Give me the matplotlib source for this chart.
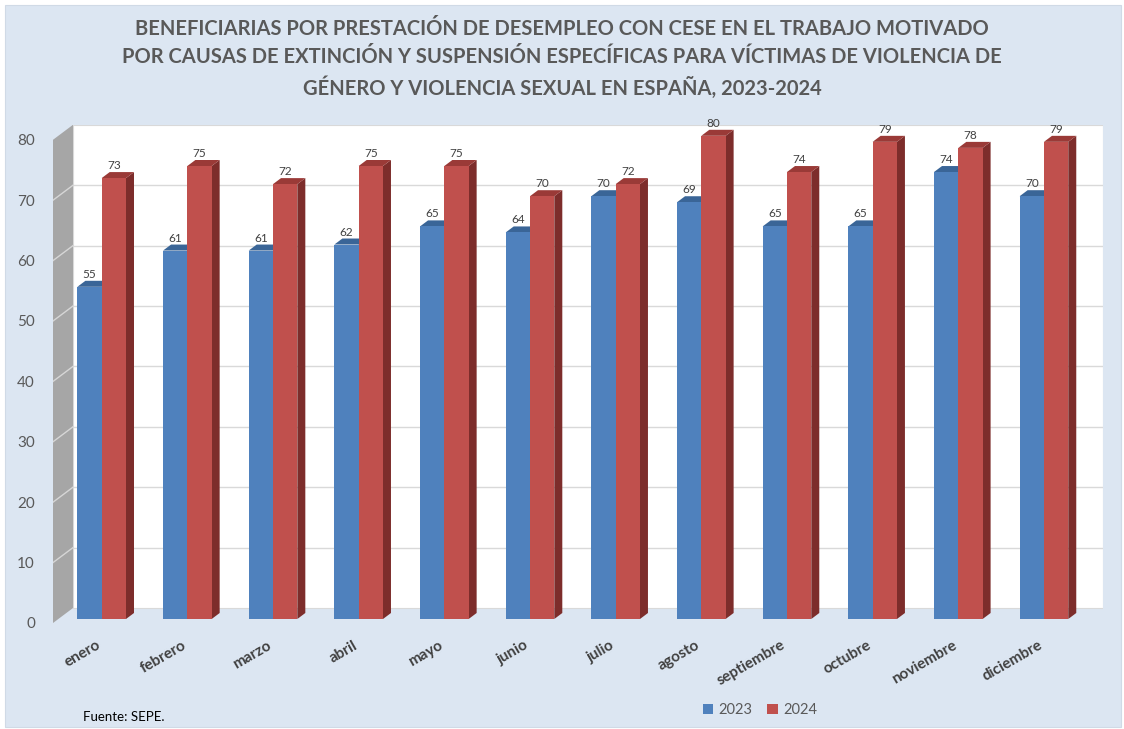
import numpy as np
import matplotlib.pyplot as plt
from matplotlib.patches import Polygon, Rectangle, Patch
from matplotlib.transforms import ScaledTranslation

# Datos
meses = ['enero', 'febrero', 'marzo', 'abril', 'mayo', 'junio', 'julio',
         'agosto', 'septiembre', 'octubre', 'noviembre', 'diciembre']
v2023 = [55, 61, 61, 62, 65, 64, 70, 69, 65, 65, 74, 70]
v2024 = [73, 75, 72, 75, 75, 70, 72, 80, 74, 79, 78, 79]
series = ['2023', '2024']
yticks = [0, 10, 20, 30, 40, 50, 60, 70, 80]

titulo = ('BENEFICIARIAS POR PRESTACIÓN DE DESEMPLEO CON CESE EN EL TRABAJO MOTIVADO\n'
          'POR CAUSAS DE EXTINCIÓN Y SUSPENSIÓN ESPECÍFICAS PARA VÍCTIMAS DE VIOLENCIA DE\n'
          'GÉNERO Y VIOLENCIA SEXUAL EN ESPAÑA, 2023-2024')

plt.rcParams['font.family'] = ['Lato', 'DejaVu Sans']

# Colores (estilo Excel 3D)
azul, azul_top, azul_lado = '#4F81BD', '#3A6597', '#34598A'
rojo, rojo_top, rojo_lado = '#C0504D', '#9A3A37', '#7D2D2B'
fondo = '#DCE6F2'
gris_muro = '#A6A6A6'
rejilla = '#D9D9D9'

W, H = 1124, 729
fig = plt.figure(figsize=(W / 100, H / 100), dpi=100)
fig.patch.set_facecolor('white')
fig.patches.append(Rectangle((5 / W, 2 / H), 1116 / W, 722 / H, transform=fig.transFigure,
                             facecolor=fondo, edgecolor='#D0DAE6', lw=0.8, zorder=-10))

# escala en pixeles del plano frontal de las barras
x0px, ux = 101.7, 85.66
y0px, uy = 619.0, 6.04
izq, der, arriba, abajo = 53, 1103, 125, 623

ax = fig.add_axes([izq / W, (H - abajo) / H, (der - izq) / W, (abajo - arriba) / H])
ax.set_xlim((izq - x0px) / ux, (der - x0px) / ux)
ax.set_ylim((y0px - abajo) / uy, (y0px - arriba) / uy)
ax.set_facecolor('none')
for s in ax.spines.values():
    s.set_visible(False)

def px(d):
    return d / ux

def py(d):
    return d / uy

xmin, xmax = ax.get_xlim()
x_back = xmin + px(20)      # muro trasero
off_back = py(11)           # desplazamiento vertical del muro trasero
off_front = -py(4)          # borde frontal del muro lateral
top = yticks[-1]

# muro trasero
ax.add_patch(Rectangle((x_back, off_back), xmax - x_back, top, facecolor='white',
                       edgecolor=rejilla, lw=0.8, zorder=1))
# muro lateral
ax.add_patch(Polygon([(xmin, off_front), (xmin, top + off_front), (x_back, top + off_back),
                      (x_back, off_back)], closed=True, facecolor=gris_muro, edgecolor='none', zorder=1))
for t in yticks[1:-1]:
    ax.plot([x_back, xmax], [t + off_back, t + off_back], color=rejilla, lw=1, zorder=1.5)
    ax.plot([xmin, x_back], [t + off_front, t + off_back], color='#D6D6D6', lw=1, zorder=1.5)

x = np.arange(len(meses))
w = 24.3 / ux
dx, dy = px(8), py(6)

def barras(pos, vals, c_front, c_top, c_side, z):
    ax.bar(pos, vals, w, color=c_front, zorder=z + 0.5)
    for xi, v in zip(pos, vals):
        l, r = xi - w / 2, xi + w / 2
        ax.add_patch(Polygon([(r, 0), (r, v), (r + dx, v + dy), (r + dx, dy)],
                             facecolor=c_side, edgecolor='none', zorder=z))
        ax.add_patch(Polygon([(l, v), (l + dx, v + dy), (r + dx, v + dy), (r, v)],
                             facecolor=c_top, edgecolor='none', zorder=z))
        ax.text(xi, v + dy + py(3), str(v), ha='center', va='baseline', fontsize=8.5,
                color='#404040', zorder=10)

barras(x - w / 2, v2023, azul, azul_top, azul_lado, 2)
barras(x + w / 2, v2024, rojo, rojo_top, rojo_lado, 3)

# ejes
ax.set_yticks(yticks)
ax.set_yticklabels([str(t) for t in yticks], fontsize=11, color='#595959')
ax.tick_params(axis='y', length=0, pad=13)
shift = ScaledTranslation(0, -4 / 100, fig.dpi_scale_trans)
for lab in ax.get_yticklabels():
    lab.set_transform(lab.get_transform() + shift)

ax.set_xticks(x)
ax.set_xticklabels(meses, rotation=30, ha='right', rotation_mode='anchor',
                   fontsize=11, fontweight='bold', color='#404040')
ax.tick_params(axis='x', length=0, pad=11)
shift_x = ScaledTranslation(-6 / 100, 0, fig.dpi_scale_trans)
for lab in ax.get_xticklabels():
    lab.set_transform(lab.get_transform() + shift_x)

fig.text(0.5, (H - 59) / H, titulo, ha='center', va='center', fontsize=14.5,
         fontweight='bold', color='#595959', linespacing=1.5)

fig.text(83 / W, (H - 717) / H, 'Fuente: SEPE.', fontsize=9.5, color='black', va='center')

handles = [Patch(facecolor=azul), Patch(facecolor=rojo)]
fig.legend(handles, series, loc='center', bbox_to_anchor=(760 / W, (H - 710) / H), ncol=2,
           frameon=False, fontsize=10.5, labelcolor='#595959', handlelength=0.7,
           handleheight=0.7, handletextpad=0.4, columnspacing=1.0)

fig.savefig('out.png', dpi=100, facecolor=fig.get_facecolor())
